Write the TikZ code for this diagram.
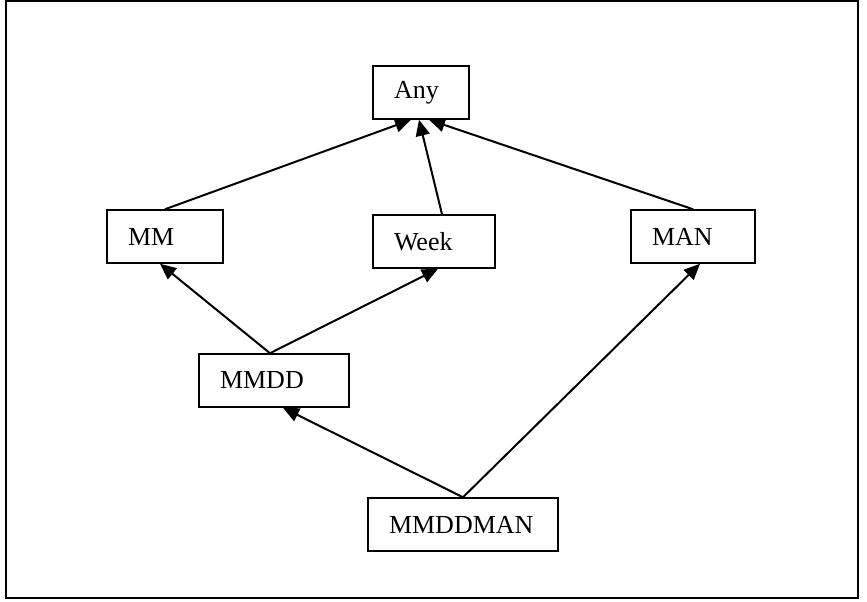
\documentclass[tikz,border=0pt]{standalone}
\usepackage{fontspec}
\setmainfont{Liberation Serif}
\usetikzlibrary{arrows.meta}
\begin{document}
\begin{tikzpicture}[x=1pt,y=-1pt,
  box/.style={draw,line width=1.5pt,minimum height=53pt,inner xsep=21pt,inner ysep=0pt,align=left,
    font=\fontsize{26}{28}\selectfont},
  link/.style={line width=2pt,-{Triangle[length=16pt,width=14pt]}}]
\useasboundingbox (0,0) rectangle (867,602);
\draw[line width=1.5pt] (6,1) rectangle (858,598);
\node[box,text width=54pt]  (any)  at (421,92.5)  {Any};
\node[box,text width=74pt]  (mm)   at (165,236.5) {MM};
\node[box,text width=80pt]  (week) at (434,241.5) {Week};
\node[box,text width=82pt]  (man)  at (693,236.5) {MAN};
\node[box,text width=108pt] (mmdd) at (274,380.5) {MMDD};
\node[box,text width=148pt] (mmddman) at (463,524.5) {MMDDMAN};
\draw[link] (mm.north) -- ([xshift=-10pt]any.south);
\draw[link] ([xshift=8pt]week.north) -- ([xshift=-2pt]any.south);
\draw[link] (man.north) -- ([xshift=8pt]any.south);
\draw[link] ([xshift=-4pt]mmdd.north) -- ([xshift=-5pt]mm.south);
\draw[link] ([xshift=-4pt]mmdd.north) -- ([xshift=4pt]week.south);
\draw[link] (mmddman.north) -- ([xshift=9pt]mmdd.south);
\draw[link] (mmddman.north) -- ([xshift=7pt]man.south);
\end{tikzpicture}
\end{document}
